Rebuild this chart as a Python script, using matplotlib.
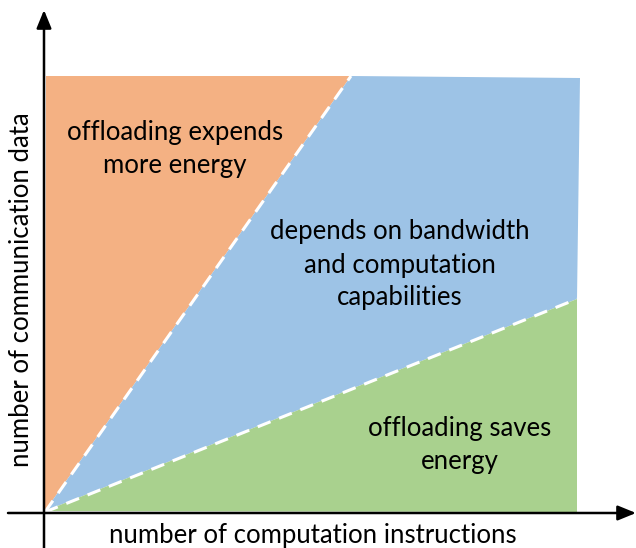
import matplotlib
matplotlib.use("Agg")
import matplotlib.pyplot as plt
from matplotlib.patches import Polygon

# region corners in chart units (origin = where the axes cross)
expends_x = [1, 2, 307]
expends_y = [2, 437, 437]
depends_x = [307, 536, 533, 1]
depends_y = [437, 435, 214, 2]
saves_x = [1, 533, 533]
saves_y = [2, 214, 1]

# dashed boundaries
steep_x = [1, 307]
steep_y = [1, 437]
flat_x = [1, 533]
flat_y = [1, 214]

labels = ["offloading expends\nmore energy",
          "depends on bandwidth\nand computation\ncapabilities",
          "offloading saves\nenergy"]
label_x = [131, 356, 416]
label_y = [364, 248, 68]

xlabel = "number of computation instructions"
ylabel = "number of communication data"

plt.rcParams['font.family'] = ['Lato', 'DejaVu Sans']

fig = plt.figure(figsize=(6.36, 5.48), dpi=100)
ax = fig.add_axes([0, 0, 1, 1])
ax.set_xlim(-44, 592)
ax.set_ylim(-35, 513)
ax.axis("off")

cols = ["#F4B183", "#9DC3E6", "#A9D18E"]
for xs, ys, c in zip([expends_x, depends_x, saves_x],
                     [expends_y, depends_y, saves_y], cols):
    ax.add_patch(Polygon(list(zip(xs, ys)), closed=True, facecolor=c,
                         edgecolor="none", zorder=1))

for xs, ys in [(steep_x, steep_y), (flat_x, flat_y)]:
    ax.plot(xs, ys, color="white", lw=2.2, ls=(0, (4.5, 3)), zorder=2)

# axes with arrow heads
ax.annotate("", xy=(592, 0), xytext=(-36, 0),
            arrowprops=dict(arrowstyle="-|>,head_length=1.1,head_width=0.45",
                            color="black", lw=1.8, shrinkA=0, shrinkB=0), zorder=3)
ax.annotate("", xy=(0, 503), xytext=(0, -35),
            arrowprops=dict(arrowstyle="-|>,head_length=1.1,head_width=0.45",
                            color="black", lw=1.8, shrinkA=0, shrinkB=0), zorder=3)

for t, x, y in zip(labels, label_x, label_y):
    ax.text(x, y, t, ha="center", va="center", fontsize=18.5,
            linespacing=1.4, color="black", zorder=4)

ax.text(269, -22, xlabel, ha="center", va="center", fontsize=18.5)
ax.text(-22, 223, ylabel, ha="center", va="center", fontsize=18.5, rotation=90)

fig.savefig("out.png", dpi=100)
